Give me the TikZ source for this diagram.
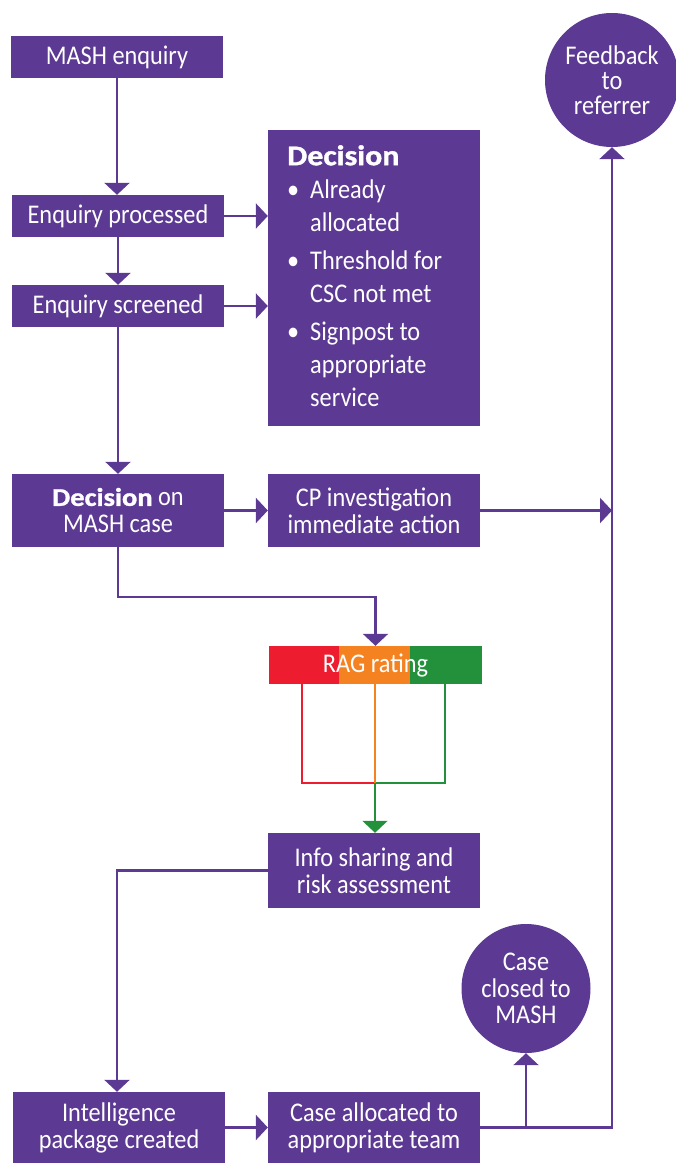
\documentclass[tikz,border=0pt]{standalone}
\usepackage{fontspec}
\setmainfont{Carlito}[FakeStretch=0.9]
\newfontfamily\blackfont{Carlito Bold}[FakeStretch=1.12, FakeBold=1.2]
\usetikzlibrary{arrows.meta}
\definecolor{mpurple}{RGB}{92,57,146}
\definecolor{ragred}{RGB}{237,28,46}
\definecolor{ragorange}{RGB}{245,130,32}
\definecolor{raggreen}{RGB}{35,145,59}
\tikzset{
  box/.style={fill=mpurple, text=white, inner sep=0pt, minimum width=212pt, align=center, font=\fontsize{27}{27}\selectfont},
  circ/.style={circle, fill=mpurple, text=white, inner sep=0pt, align=center, font=\fontsize{27}{25}\selectfont},
  conn/.style={draw=mpurple, line width=2.5pt, -{Triangle[length=12pt,width=25pt]}},
  ragline/.style={line width=2pt},
}
\begin{document}
\begin{tikzpicture}[x=1pt,y=-1pt]
\useasboundingbox (0,0) rectangle (676,1163);
% boxes
\node[box, minimum height=42pt] (mash) at (117,57) {MASH enquiry};
\node[box, minimum height=42pt] (proc) at (118,216) {Enquiry processed};
\node[box, minimum height=42pt] (scr) at (118,306) {Enquiry screened};
\node[fill=mpurple, minimum width=212pt, minimum height=296pt, inner sep=0pt] (dec) at (374,278) {};
\node[anchor=north west, align=left, inner sep=0pt, text=white, font=\fontsize{27}{33}\selectfont] (dectxt) at (287,145)
  {{\blackfont\fontsize{28.5}{33}\selectfont Decision}\\
   \makebox[23pt][l]{\textbullet}Already\\
   \hspace*{23pt}allocated\\[5pt]
   \makebox[23pt][l]{\textbullet}Threshold for\\
   \hspace*{23pt}CSC not met\\[5pt]
   \makebox[23pt][l]{\textbullet}Signpost to\\
   \hspace*{23pt}appropriate\\
   \hspace*{23pt}service};
\node[box, minimum height=73pt] (dmash) at (118,510.5) {{\blackfont\fontsize{25.5}{27}\selectfont Decision} on\\MASH case};
\node[box, minimum height=73pt] (cp) at (374,510.5) {CP investigation\\immediate action};
% RAG bar
\fill[ragred] (269,646) rectangle (339,684);
\fill[ragorange] (339,646) rectangle (410,684);
\fill[raggreen] (410,646) rectangle (482,684);
\node[text=white, inner sep=0pt, minimum width=213pt, minimum height=38pt, font=\fontsize{27}{27}\selectfont] (rag) at (375.5,665) {RAG rating};
\node[box, minimum height=75pt] (info) at (374,870.5) {Info sharing and\\risk assessment};
\node[box, minimum height=71pt] (intel) at (119,1127.5) {Intelligence\\package created};
\node[box, minimum height=71pt] (ca) at (374,1127.5) {Case allocated to\\appropriate team};
\node[circ, minimum size=134pt] (fb) at (612,80) {Feedback\\to\\referrer};
\node[circ, minimum size=129pt, font=\fontsize{27}{26.5}\selectfont] (cc) at (526,988.5) {Case\\closed to\\MASH};
% connectors
\draw[conn] (mash.south) -- (mash.south |- proc.north);
\draw[conn] (proc.south) -- (proc.south |- scr.north);
\draw[conn] (proc.east) -- (proc.east -| dec.west);
\draw[conn] (scr.east) -- (scr.east -| dec.west);
\draw[conn] (scr.south) -- (scr.south |- dmash.north);
\draw[conn] (dmash.east) -- (dmash.east -| cp.west);
\draw[conn] (cp.east) -- (cp.east -| fb.south);
\draw[conn] (dmash.south) -- ++(0,50) -| (rag.north);
\coordinate (merge) at (375,783);
\draw[ragline, ragred] (302,684) |- (merge);
\draw[ragline, raggreen] (445,684) |- (merge);
\draw[ragline, ragorange] (rag.south -| merge) -- (merge);
\draw[ragline, raggreen, -{Triangle[length=12pt,width=25pt]}] (merge) -- (merge |- info.north);
\draw[conn] (info.west) -| (117,0 |- intel.north);
\draw[conn] (intel.east) -- (intel.east -| ca.west);
\draw[conn] (ca.east) -| (fb.south);
\coordinate (br) at (ca.east -| cc.south);
\draw[conn] (br) -- (cc.south);
\end{tikzpicture}
\end{document}
